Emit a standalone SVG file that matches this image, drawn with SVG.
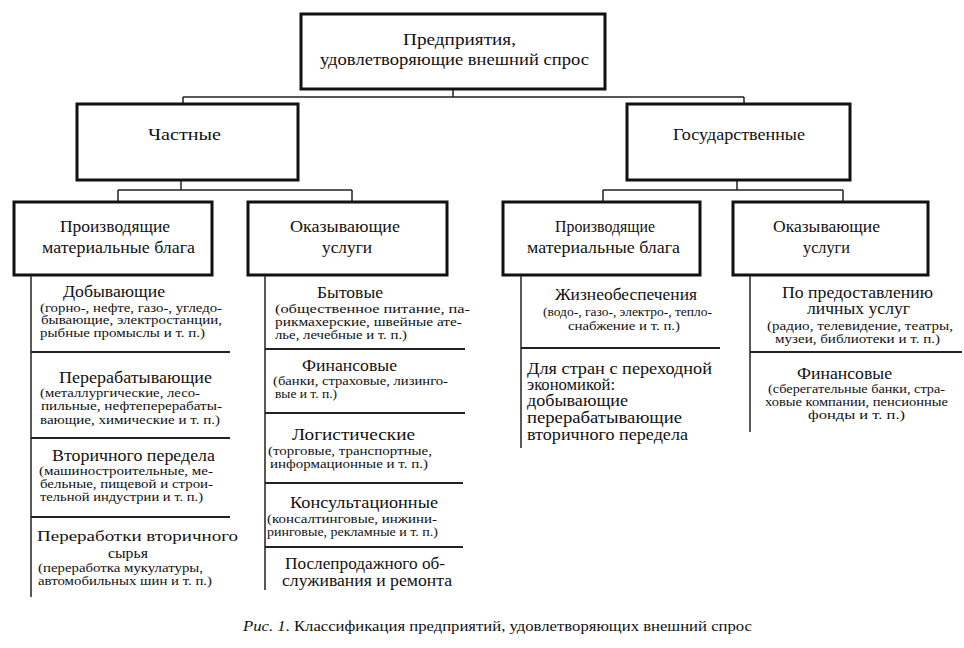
<svg xmlns="http://www.w3.org/2000/svg" width="964" height="648" viewBox="0 0 964 648" font-family="'Liberation Serif', 'DejaVu Serif', serif">
<style>
text{font-family:'Liberation Serif','DejaVu Serif',serif;fill:#111}
.box{fill:#fff;stroke:#111;stroke-width:3}
.bt{font-size:17px}
.it{font-size:16px}
.sb{font-size:11.5px}
.ln{stroke:#222;stroke-width:1.5;fill:none}
.sep{stroke:#222;stroke-width:1.8;fill:none}
.cap{font-size:15px}
</style>
<rect width="964" height="648" fill="#fff"/>
<g id="connectors">
<path class="ln" d="M453 89V97M183 97H744M183 97V104M744 97V104"/>
<path class="ln" d="M181 180V190M118 190H352M118 190V202M352 190V202"/>
<path class="ln" d="M737 180V190M603 190H843M603 190V202M843 190V202"/>
</g>
<g id="root">
<rect class="box" x="301" y="14" width="304" height="75"/>
<text class="bt" x="403" y="45" textLength="113" lengthAdjust="spacingAndGlyphs">Предприятия,</text>
<text class="bt" x="320" y="65" textLength="269" lengthAdjust="spacingAndGlyphs">удовлетворяющие внешний спрос</text>
</g>
<g id="private">
<rect class="box" x="77" y="104" width="221" height="76"/>
<text class="bt" x="148" y="140" textLength="73" lengthAdjust="spacingAndGlyphs">Частные</text>
</g>
<g id="state">
<rect class="box" x="627" y="104" width="223" height="76"/>
<text class="bt" x="673" y="140" textLength="132" lengthAdjust="spacingAndGlyphs">Государственные</text>
</g>
<g id="private-goods">
<rect class="box" x="14" y="202" width="198" height="73"/>
<text class="bt" x="60" y="232" textLength="110" lengthAdjust="spacingAndGlyphs">Производящие</text>
<text class="bt" x="42" y="253" textLength="153" lengthAdjust="spacingAndGlyphs">материальные блага</text>
</g>
<g id="private-services">
<rect class="box" x="248" y="202" width="199" height="73"/>
<text class="bt" x="290" y="232" textLength="110" lengthAdjust="spacingAndGlyphs">Оказывающие</text>
<text class="bt" x="322" y="253" textLength="50" lengthAdjust="spacingAndGlyphs">услуги</text>
</g>
<g id="state-goods">
<rect class="box" x="503" y="202" width="197" height="73"/>
<text class="bt" x="555" y="232" textLength="100" lengthAdjust="spacingAndGlyphs">Производящие</text>
<text class="bt" x="527" y="253" textLength="153" lengthAdjust="spacingAndGlyphs">материальные блага</text>
</g>
<g id="state-services">
<rect class="box" x="733" y="202" width="195" height="73"/>
<text class="bt" x="773" y="232" textLength="107" lengthAdjust="spacingAndGlyphs">Оказывающие</text>
<text class="bt" x="803" y="253" textLength="47" lengthAdjust="spacingAndGlyphs">услуги</text>
</g>
<g id="col1">
<path class="ln" d="M31 275V597"/>
<path class="sep" d="M31 352H230M31 438H230M31 517H230"/>
<text class="it" x="63" y="297" textLength="102" lengthAdjust="spacingAndGlyphs">Добывающие</text>
<text class="sb" x="40" y="312" textLength="182" lengthAdjust="spacingAndGlyphs">(горно-, нефте, газо-, угледо-</text>
<text class="sb" x="41" y="324" textLength="181" lengthAdjust="spacingAndGlyphs">бывающие, электростанции,</text>
<text class="sb" x="40" y="337" textLength="165" lengthAdjust="spacingAndGlyphs">рыбные промыслы и т. п.)</text>
<text class="it" x="59" y="383" textLength="153" lengthAdjust="spacingAndGlyphs">Перерабатывающие</text>
<text class="sb" x="40" y="397" textLength="160" lengthAdjust="spacingAndGlyphs">(металлургические, лесо-</text>
<text class="sb" x="41" y="410" textLength="181" lengthAdjust="spacingAndGlyphs">пильные, нефтеперерабаты-</text>
<text class="sb" x="40" y="424" textLength="180" lengthAdjust="spacingAndGlyphs">вающие, химические и т. п.)</text>
<text class="it" x="52" y="461" textLength="163" lengthAdjust="spacingAndGlyphs">Вторичного передела</text>
<text class="sb" x="39" y="475" textLength="174" lengthAdjust="spacingAndGlyphs">(машиностроительные, ме-</text>
<text class="sb" x="40" y="488" textLength="173" lengthAdjust="spacingAndGlyphs">бельные, пищевой и строи-</text>
<text class="sb" x="40" y="501" textLength="163" lengthAdjust="spacingAndGlyphs">тельной индустрии и т. п.)</text>
<text x="37" y="541" font-size="15.5" textLength="201" lengthAdjust="spacingAndGlyphs">Переработки вторичного</text>
<text x="108" y="558" font-size="15" textLength="40" lengthAdjust="spacingAndGlyphs">сырья</text>
<text class="sb" x="38" y="572" textLength="165" lengthAdjust="spacingAndGlyphs">(переработка мукулатуры,</text>
<text class="sb" x="38" y="585" textLength="174" lengthAdjust="spacingAndGlyphs">автомобильных шин и т. п.)</text>
</g>
<g id="col2">
<path class="ln" d="M265 275V590"/>
<path class="sep" d="M265 349H465M265 413H465M265 483H463M265 547H463"/>
<text class="it" x="317" y="298" textLength="66" lengthAdjust="spacingAndGlyphs">Бытовые</text>
<text class="sb" x="275" y="313" textLength="195" lengthAdjust="spacingAndGlyphs">(общественное питание, па-</text>
<text class="sb" x="275" y="326" textLength="187" lengthAdjust="spacingAndGlyphs">рикмахерские, швейные ате-</text>
<text class="sb" x="275" y="339" textLength="132" lengthAdjust="spacingAndGlyphs">лье, лечебные и т. п.)</text>
<text class="it" x="302" y="371" textLength="95" lengthAdjust="spacingAndGlyphs">Финансовые</text>
<text class="sb" x="273" y="385" textLength="175" lengthAdjust="spacingAndGlyphs">(банки, страховые, лизинго-</text>
<text class="sb" x="275" y="398" textLength="62" lengthAdjust="spacingAndGlyphs">вые и т. п.)</text>
<text class="it" x="292" y="440" textLength="123" lengthAdjust="spacingAndGlyphs">Логистические</text>
<text class="sb" x="268" y="455" textLength="164" lengthAdjust="spacingAndGlyphs">(торговые, транспортные,</text>
<text class="sb" x="270" y="468" textLength="158" lengthAdjust="spacingAndGlyphs">информационные и т. п.)</text>
<text class="it" x="290" y="508" textLength="148" lengthAdjust="spacingAndGlyphs">Консультационные</text>
<text class="sb" x="267" y="523" textLength="170" lengthAdjust="spacingAndGlyphs">(консалтинговые, инжини-</text>
<text class="sb" x="267" y="536" textLength="171" lengthAdjust="spacingAndGlyphs">ринговые, рекламные и т. п.)</text>
<text class="it" x="285" y="569" textLength="160" lengthAdjust="spacingAndGlyphs">Послепродажного об-</text>
<text class="it" x="282" y="586" textLength="170" lengthAdjust="spacingAndGlyphs">служивания и ремонта</text>
</g>
<g id="col3">
<path class="ln" d="M521 275V448"/>
<path class="sep" d="M521 348H720"/>
<text class="it" x="555" y="300" textLength="142" lengthAdjust="spacingAndGlyphs">Жизнеобеспечения</text>
<text class="sb" x="543" y="316" textLength="169" lengthAdjust="spacingAndGlyphs">(водо-, газо-, электро-, тепло-</text>
<text class="sb" x="568" y="330" textLength="112" lengthAdjust="spacingAndGlyphs">снабжение и т. п.)</text>
<text class="it" x="527" y="374" textLength="185" lengthAdjust="spacingAndGlyphs">Для стран с переходной</text>
<text class="it" x="527" y="390" textLength="88" lengthAdjust="spacingAndGlyphs">экономикой:</text>
<text class="it" x="527" y="406" textLength="101" lengthAdjust="spacingAndGlyphs">добывающие</text>
<text class="it" x="527" y="423" textLength="155" lengthAdjust="spacingAndGlyphs">перерабатывающие</text>
<text class="it" x="527" y="440" textLength="161" lengthAdjust="spacingAndGlyphs">вторичного передела</text>
</g>
<g id="col4">
<path class="ln" d="M750 275V432"/>
<path class="sep" d="M750 352H962"/>
<text class="it" x="782" y="298" textLength="151" lengthAdjust="spacingAndGlyphs">По предоставлению</text>
<text class="it" x="807" y="314" textLength="103" lengthAdjust="spacingAndGlyphs">личных услуг</text>
<text class="sb" x="767" y="330" textLength="186" lengthAdjust="spacingAndGlyphs">(радио, телевидение, театры,</text>
<text class="sb" x="775" y="343" textLength="165" lengthAdjust="spacingAndGlyphs">музеи, библиотеки и т. п.)</text>
<text class="it" x="797" y="379" textLength="95" lengthAdjust="spacingAndGlyphs">Финансовые</text>
<text class="sb" x="768" y="393" textLength="177" lengthAdjust="spacingAndGlyphs">(сберегательные банки, стра-</text>
<text class="sb" x="765" y="406" textLength="183" lengthAdjust="spacingAndGlyphs">ховые компании, пенсионные</text>
<text class="sb" x="808" y="419" textLength="97" lengthAdjust="spacingAndGlyphs">фонды и т. п.)</text>
</g>
<g id="caption">
<text class="cap" x="243" y="631" textLength="509" lengthAdjust="spacingAndGlyphs"><tspan font-style="italic">Рис. 1</tspan>. Классификация предприятий, удовлетворяющих внешний спрос</text>
</g>
</svg>
